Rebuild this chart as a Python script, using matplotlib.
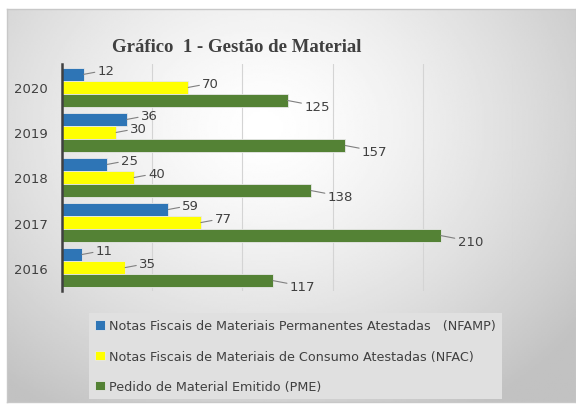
import numpy as np
import matplotlib.pyplot as plt

anos = ["2016", "2017", "2018", "2019", "2020"]
nfamp = [11, 59, 25, 36, 12]
nfac = [35, 77, 40, 30, 70]
pme = [117, 210, 138, 157, 125]

series = [
    ("Notas Fiscais de Materiais Permanentes Atestadas   (NFAMP)", nfamp, "#2e75b6"),
    ("Notas Fiscais de Materiais de Consumo Atestadas (NFAC)", nfac, "#ffff00"),
    ("Pedido de Material Emitido (PME)", pme, "#548235"),
]

fig = plt.figure(figsize=(5.76, 4.06), dpi=100)

# fundo com gradiente (area do grafico)
bg = fig.add_axes([7 / 576, 3 / 406, 569 / 576, 393 / 406])
yy, xx = np.mgrid[0:1:200j, 0:1:300j]
r = np.sqrt(((xx - 0.45) / 0.7) ** 2 + ((yy - 0.3) / 0.85) ** 2)
bg.imshow(1 - 0.24 * np.clip(r, 0, 1) ** 1.4, cmap="gray", vmin=0, vmax=1,
          aspect="auto", extent=[0, 1, 0, 1], origin="upper")
bg.set_xticks([])
bg.set_yticks([])
for s in bg.spines.values():
    s.set_color("#c8c8c8")
    s.set_linewidth(1)

ax = fig.add_axes([62 / 576, 1 - 292 / 406, 451 / 576, 227 / 406])
ax.patch.set_alpha(0)

y = np.arange(len(anos))
h = 0.29
offsets = [h, 0, -h]
text_off = [(10, 3), (10, 3), (12, -4)]
for (nome, vals, cor), dy, toff in zip(series, offsets, text_off):
    ax.barh(y + dy, vals, height=h, color=cor, edgecolor="#e8e8e8",
            linewidth=0.6, label=nome, zorder=3)
    for yi, v in zip(y + dy, vals):
        ax.annotate(str(v), xy=(v, yi), xytext=toff, textcoords="offset points",
                    ha="left", va="center", fontsize=9.5, color="#404040",
                    arrowprops=dict(arrowstyle="-", color="#808080", lw=0.8,
                                    shrinkA=0, shrinkB=0))

ax.set_xlim(0, 250)
ax.set_ylim(-0.52, 4.52)
ax.set_xticks([0, 50, 100, 150, 200, 250])
ax.set_xticklabels([])
ax.tick_params(axis="x", length=0)
ax.set_yticks(y)
ax.set_yticklabels(anos, fontsize=9.5, color="#404040")
ax.tick_params(axis="y", length=0, pad=10)
ax.grid(axis="x", color="#d4d4d4", lw=0.8, zorder=0)
for k in ["top", "right", "bottom"]:
    ax.spines[k].set_visible(False)
ax.spines["left"].set_color("#404040")
ax.spines["left"].set_linewidth(1.8)
ax.spines["left"].set_zorder(4)

fig.text(237 / 576, 1 - 47 / 406, "Gráfico  1 - Gestão de Material",
         ha="center", va="center", fontsize=13.5, fontweight="bold",
         family="Liberation Serif", color="#404040")

leg = fig.legend(loc="upper left", bbox_to_anchor=(89 / 576, 1 - 314 / 406),
                 frameon=True, fancybox=False, fontsize=9.2, labelspacing=1.35,
                 handlelength=0.75, handleheight=0.75, handletextpad=0.3,
                 borderpad=0.5, borderaxespad=0, labelcolor="#404040")
leg.get_frame().set_facecolor("#e0e0e0")
leg.get_frame().set_edgecolor("none")
leg.get_frame().set_alpha(1)

fig.savefig("out.png", dpi=100)
